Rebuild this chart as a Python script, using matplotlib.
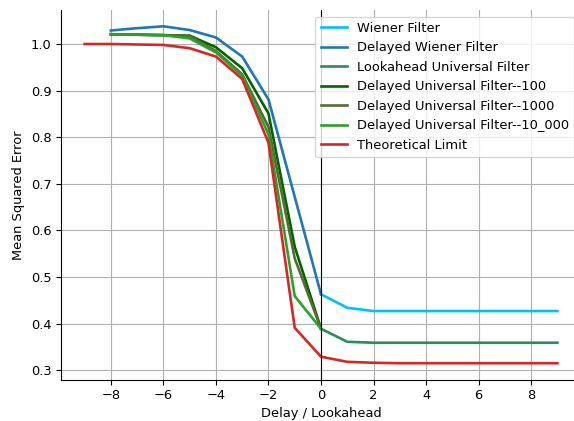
import matplotlib
matplotlib.use("Agg")
import matplotlib.pyplot as plt

# Data
delays_neg = [-8, -7, -6, -5, -4, -3, -2, -1, 0]
delays_pos = [0, 1, 2, 3, 4, 5, 6, 7, 8, 9]
delays_all = [-9, -8, -7, -6, -5, -4, -3, -2, -1, 0, 1, 2, 3, 4, 5, 6, 7, 8, 9]

wiener = [0.463, 0.434, 0.427, 0.427, 0.427, 0.427, 0.427, 0.427, 0.427, 0.427]
delayed_wiener = [1.029, 1.034, 1.038, 1.030, 1.014, 0.973, 0.881, 0.672, 0.463]
lookahead_universal = [0.389, 0.361, 0.359, 0.359, 0.359, 0.359, 0.359, 0.359, 0.359, 0.359]
delayed_univ_100 = [1.021, 1.020, 1.019, 1.018, 0.993, 0.948, 0.851, 0.565, 0.389]
delayed_univ_1000 = [1.021, 1.020, 1.019, 1.017, 0.985, 0.935, 0.822, 0.540, 0.389]
delayed_univ_10000 = [1.021, 1.020, 1.019, 1.012, 0.982, 0.932, 0.806, 0.459, 0.389]
theoretical = [1.000, 1.000, 0.999, 0.998, 0.991, 0.973, 0.925, 0.788, 0.391, 0.329,
               0.318, 0.316, 0.315, 0.315, 0.315, 0.315, 0.315, 0.315, 0.315]

labels = ["Wiener Filter", "Delayed Wiener Filter", "Lookahead Universal Filter",
          "Delayed Universal Filter--100", "Delayed Universal Filter--1000",
          "Delayed Universal Filter--10_000", "Theoretical Limit"]

plt.rcParams["font.size"] = 9.4
plt.rcParams["xtick.major.size"] = 3.3
plt.rcParams["ytick.major.size"] = 3.3

fig = plt.figure(figsize=(5.74, 4.21), dpi=100)
ax = fig.add_axes([61 / 574, 41 / 421, 520 / 574, 370 / 421])

lw = 1.9
ax.plot(delays_pos, wiener, color="#00bfff", lw=lw, label=labels[0])
ax.plot(delays_neg, delayed_wiener, color="#1f77b4", lw=lw, label=labels[1])
ax.plot(delays_pos, lookahead_universal, color="#2e8b57", lw=lw, label=labels[2])
ax.plot(delays_neg, delayed_univ_100, color="#006400", lw=lw, label=labels[3])
ax.plot(delays_neg, delayed_univ_1000, color="#556b2f", lw=lw, label=labels[4])
ax.plot(delays_neg, delayed_univ_10000, color="#2ca02c", lw=lw, label=labels[5])
ax.plot(delays_all, theoretical, color="#d62728", lw=lw, label=labels[6])

ax.axvline(0, color="black", lw=0.8)
ax.grid(True, color="#b0b0b0", lw=0.8)
ax.set_axisbelow(True)

ax.set_xlim(-9.9, 9.9)
ax.set_ylim(0.279, 1.073)
ax.set_xticks([-8, -6, -4, -2, 0, 2, 4, 6, 8])
ax.set_yticks([0.3, 0.4, 0.5, 0.6, 0.7, 0.8, 0.9, 1.0])

ax.spines["top"].set_visible(False)
ax.spines["right"].set_visible(False)

ax.set_xlabel("Delay / Lookahead", labelpad=3.5)
ax.set_ylabel("Mean Squared Error")
ax.legend(loc="upper right")

fig.savefig("out.png", dpi=100)
